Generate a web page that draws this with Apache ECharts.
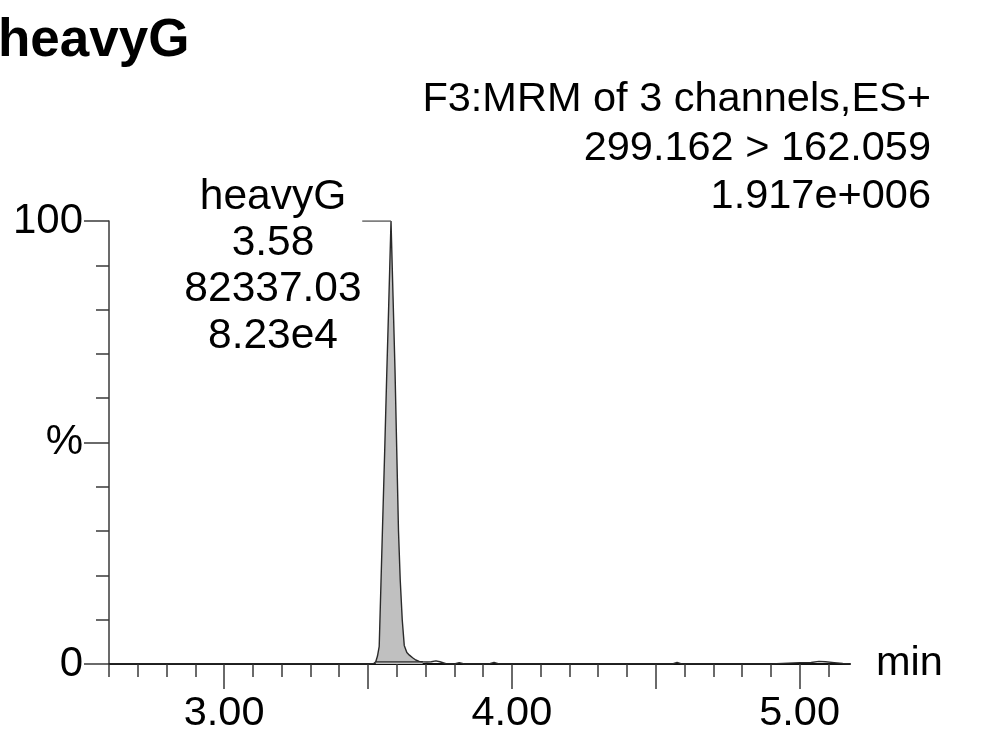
<!DOCTYPE html>
<html>
<head>
<meta charset="utf-8">
<script src="https://cdn.jsdelivr.net/npm/echarts@6/dist/echarts.min.js"></script>
<style>
  html, body { margin: 0; padding: 0; background: #fff; }
  #chart { width: 999px; height: 737px; }
</style>
</head>
<body>
<div id="chart"></div>
<script>
// Chromatogram trace: retention time (min) and relative intensity (%)
var times = [2.60, 2.80, 3.00, 3.20, 3.40, 3.50, 3.520, 3.527, 3.533, 3.539,
             3.545, 3.551, 3.558, 3.565, 3.572, 3.580, 3.587, 3.594, 3.600, 3.606,
             3.612, 3.619, 3.626, 3.635, 3.644, 3.655, 3.666, 3.678, 3.690, 3.705,
             3.720, 3.736, 3.750, 3.771, 3.800, 3.817, 3.835, 3.920, 3.938, 3.955,
             4.200, 4.400, 4.558, 4.574, 4.590, 4.900, 4.960, 5.000, 5.040, 5.067,
             5.090, 5.120, 5.150, 5.175];
var intensity = [0, 0, 0, 0, 0, 0, 0.1, 0.5, 1.8, 4.0,
                 18, 32, 48, 65, 81, 100, 83, 66, 48, 30,
                 19, 10, 4.2, 2.6, 2.0, 1.4, 0.9, 0.6, 0.5, 0.45,
                 0.5, 0.7, 0.5, 0.05, 0, 0.3, 0, 0, 0.35, 0,
                 0, 0, 0, 0.35, 0, 0, 0.2, 0.3, 0.35, 0.6,
                 0.5, 0.3, 0.1, 0];

// Integrated peak
var peakName = 'heavyG';
var peakStart = 3.527;
var peakEnd = 3.690;
var peakApex = 3.58;
var peakArea = 82337.03;
var peakHeight = '8.23e4';

// Header text
var headerLines = ['F3:MRM of 3 channels,ES+', '299.162 > 162.059', '1.917e+006'];

// Axis ticks
var xMinorTicks = [2.6, 2.7, 2.8, 2.9, 3.0, 3.1, 3.2, 3.3, 3.4, 3.5, 3.6, 3.7, 3.8,
                   3.9, 4.0, 4.1, 4.2, 4.3, 4.4, 4.5, 4.6, 4.7, 4.8, 4.9, 5.0, 5.1];
var xMajorTicks = [3.0, 3.5, 4.0, 4.5, 5.0];
var xLabels = [3.0, 4.0, 5.0];

var trace = times.map(function (t, i) { return [t, intensity[i]]; });
var peakTrace = trace.filter(function (p) { return p[0] >= peakStart && p[0] <= peakEnd; });
var baseline = [peakTrace[0], peakTrace[peakTrace.length - 1]];
var apexIdx = times.indexOf(peakApex);

var FONT = '"Liberation Sans", Arial, Helvetica, sans-serif';
var AX = '#3a3a3a';

var chart = echarts.init(document.getElementById('chart'), null, { renderer: 'canvas' });

var xCommon = {
  type: 'value', min: 2.6, max: 5.175, gridIndex: 0, position: 'bottom',
  splitLine: { show: false }
};

var option = {
  backgroundColor: '#ffffff',
  animation: false,
  grid: { left: 109, top: 221, width: 741, height: 443, containLabel: false },
  xAxis: [
    Object.assign({}, xCommon, {
      axisLine: { show: true, onZero: false, lineStyle: { color: '#111', width: 2 } },
      axisTick: { show: true, customValues: xMinorTicks, length: 13, lineStyle: { color: AX, width: 1.5 } },
      axisLabel: {
        show: true, customValues: xLabels, margin: 29,
        fontFamily: FONT, fontSize: 41.5, color: '#000',
        formatter: function (v) { return Number(v).toFixed(2); }
      },
      name: 'min', nameLocation: 'end', nameGap: 26,
      nameTextStyle: { fontFamily: FONT, fontSize: 41.5, color: '#000', verticalAlign: 'middle' }
    }),
    Object.assign({}, xCommon, {
      axisLine: { show: false, onZero: false },
      axisTick: { show: true, customValues: xMajorTicks, length: 25, lineStyle: { color: AX, width: 1.5 } },
      axisLabel: { show: false }
    })
  ],
  yAxis: {
    type: 'value', min: 0, max: 100, interval: 50,
    axisLine: { show: true, lineStyle: { color: AX, width: 1.5 } },
    axisTick: { show: true, length: 25, lineStyle: { color: AX, width: 1.5 } },
    minorTick: { show: true, splitNumber: 5, length: 13, lineStyle: { color: AX, width: 1.5 } },
    splitLine: { show: false },
    minorSplitLine: { show: false },
    axisLabel: {
      margin: 26, fontFamily: FONT, fontSize: 42, color: '#000',
      formatter: function (v) { return v === 50 ? '%' : String(v); }
    }
  },
  series: [
    {
      name: 'peakFill', type: 'line', data: peakTrace, xAxisIndex: 0,
      showSymbol: false, symbol: 'none',
      lineStyle: { width: 0 },
      areaStyle: { color: '#c0c0c0', opacity: 1 },
      z: 2
    },
    {
      name: 'trace', type: 'line', data: trace, xAxisIndex: 0,
      showSymbol: false, symbol: 'none',
      lineStyle: { color: '#2a2a2a', width: 1.4 },
      z: 3
    },
    {
      name: 'baseline', type: 'line', data: baseline, xAxisIndex: 0,
      showSymbol: false, symbol: 'none',
      lineStyle: { color: '#2a2a2a', width: 1.2 },
      z: 3
    },
    {
      name: 'leader', type: 'line', xAxisIndex: 0,
      data: [[peakApex - 0.1, intensity[apexIdx]], [peakApex, intensity[apexIdx]]],
      showSymbol: false, symbol: 'none',
      lineStyle: { color: '#555', width: 1.5 },
      z: 3
    }
  ],
  graphic: []
};

function txt(text, x, y, size, align, bold) {
  return {
    type: 'text', x: x, y: y, silent: true,
    style: {
      text: text,
      font: (bold ? 'bold ' : '') + size + 'px ' + FONT,
      fill: '#000',
      textAlign: align, align: align,
      textVerticalAlign: 'middle', verticalAlign: 'middle'
    }
  };
}

option.graphic.push(txt(peakName, -2, 41, 53, 'left', true));
headerLines.forEach(function (s, i) {
  option.graphic.push(txt(s, 931, 100 + i * 48.5, 41.5, 'right', false));
});
var peakLabel = [peakName, peakApex.toFixed(2), peakArea.toFixed(2), peakHeight];
peakLabel.forEach(function (s, i) {
  option.graphic.push(txt(s, 273, 197 + i * 46.3, 42.5, 'center', false));
});

chart.setOption(option);
</script>
</body>
</html>
